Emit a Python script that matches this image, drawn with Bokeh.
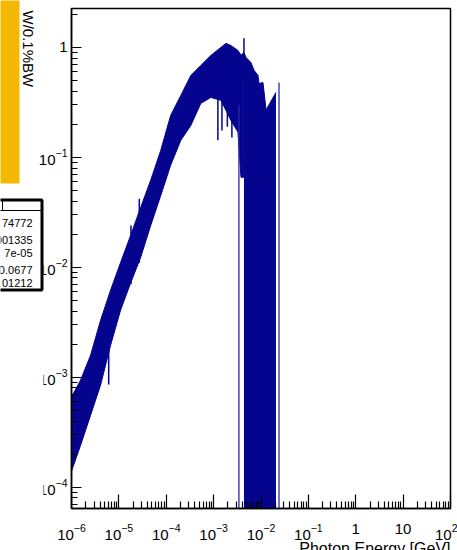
from bokeh.plotting import figure
from bokeh.layouts import row, column
from bokeh.models import FixedTicker, Range1d
from bokeh.core.properties import value
from bokeh.embed import file_html
from bokeh.resources import INLINE

# ---- data (photon energy in GeV, power in W/0.1%BW) ----
# envelope of the noisy histogram (upper / lower edge of the drawn band)
energy = [1.0e-6, 1.55e-6, 2.52e-6, 4.11e-6, 6.68e-6, 1.09e-5, 1.77e-5, 2.88e-5,
          4.70e-5, 7.66e-5, 1.24e-4, 2.03e-4, 3.30e-4, 5.37e-4, 8.75e-4, 1.42e-3,
          1.82e-3, 2.32e-3, 3.26e-3, 3.78e-3, 4.37e-3]
w_upper = [6.6e-4, 9.4e-4, 1.58e-3, 3.3e-3, 6.2e-3, 1.11e-2, 1.95e-2, 3.5e-2,
           6.2e-2, 0.116, 0.241, 0.366, 0.556, 0.686, 0.846, 1.0,
           1.09, 1.04, 0.94, 0.85, 0.90]
w_lower = [1.4e-4, 2.4e-4, 4.5e-4, 8.5e-4, 1.95e-3, 4.1e-3, 7.2e-3, 1.23e-2,
           2.4e-2, 4.5e-2, 8.5e-2, 0.143, 0.195, 0.31, 0.351, 0.33,
           0.268, 0.217, 0.17, 0.066, 0.066]

# region where bins alternate with empty bins (appears solid down to the axis)
dense_energy = [4.37e-3, 4.82e-3, 6.14e-3, 7.11e-3, 8.65e-3, 9.08e-3, 1.10e-2, 1.28e-2, 2.07e-2]
dense_upper = [0.90, 0.81, 0.73, 0.62, 0.556, 0.47, 0.48, 0.27, 0.39]

# isolated single-bin spikes
spike_energy = [6.1e-6, 1.8e-5, 2.7e-5, 1.23e-3, 1.50e-3, 1.95e-3, 2.43e-3, 4.37e-3]
spike_low = [8.6e-4, 7.0e-3, 1.1e-2, 0.143, 0.176, 0.19, 0.152, 0.5]
spike_high = [3.0e-3, 2.4e-2, 4.2e-2, 0.6, 0.5, 0.6, 0.6, 1.21]

# bins that drop all the way to the axis
full_spike_energy = [3.42e-3, 2.40e-2]
full_spike_high = [0.30, 0.481]

x_ticks = [1e-6, 1e-5, 1e-4, 1e-3, 1e-2, 1e-1, 1, 10, 100]
y_ticks = [1e-4, 1e-3, 1e-2, 1e-1, 1]

stats_values = ["74772", "001335", "7e-05", "0.0677", "01212"]

x_min, x_max = 1e-6, 1e2
y_min, y_max = 6.4e-5, 2.26

NAVY = "#04048f"
FONT = "Liberation Sans"
W, H = 457, 550

# ---------------- main histogram pad ----------------
p = figure(width=W, height=H, x_axis_type="log", y_axis_type="log",
           x_range=Range1d(x_min, x_max), y_range=Range1d(y_min, y_max),
           output_backend="svg", toolbar_location=None,
           min_border_left=71, min_border_right=7, min_border_top=8, min_border_bottom=42)
p.grid.visible = False
p.background_fill_color = "white"
p.border_fill_color = "white"
p.outline_line_color = "black"
p.outline_line_width = 1.5

p.varea(x=energy, y1=w_lower, y2=w_upper, fill_color=NAVY)
p.line(x=energy, y=w_upper, line_color=NAVY, line_width=1)
p.line(x=energy, y=w_lower, line_color=NAVY, line_width=1)
p.varea(x=dense_energy, y1=[y_min] * len(dense_energy), y2=dense_upper, fill_color=NAVY)
p.line(x=dense_energy, y=dense_upper, line_color=NAVY, line_width=1)
p.segment(x0=spike_energy, y0=spike_low, x1=spike_energy, y1=spike_high,
          line_color=NAVY, line_width=1.5)
p.segment(x0=full_spike_energy, y0=[y_min] * len(full_spike_energy),
          x1=full_spike_energy, y1=full_spike_high,
          line_color="#2a2aa8", line_width=1.3)

minor_x = [k * t for t in x_ticks for k in range(2, 10) if k * t <= x_max]
minor_y = [k * t for t in [1e-5] + y_ticks for k in range(2, 10) if y_min <= k * t <= y_max]
p.xaxis.ticker = FixedTicker(ticks=x_ticks, minor_ticks=minor_x)
p.yaxis.ticker = FixedTicker(ticks=y_ticks, minor_ticks=minor_y)
p.xaxis.major_label_overrides = {1: "1", 10: "10"}
p.yaxis.major_label_overrides = {1: "1"}
for ax in (p.xaxis[0], p.yaxis[0]):
    ax.axis_line_width = 1.5
    ax.axis_line_color = "black"
    ax.major_tick_line_color = "black"
    ax.minor_tick_line_color = "black"
    ax.major_tick_line_width = 1.2
    ax.minor_tick_line_width = 1.2
    ax.major_tick_out = 0
    ax.minor_tick_out = 0
    ax.major_label_text_font = FONT
    ax.major_label_text_font_size = "15px"
    ax.major_label_text_color = "black"
p.xaxis.major_tick_in = 14
p.xaxis.minor_tick_in = 7
p.yaxis.major_tick_in = 10
p.yaxis.minor_tick_in = 6
p.xaxis.major_label_standoff = 15
p.yaxis.major_label_standoff = 4

# ------------- overlay (canvas pixel coordinates): neighbouring pad + titles -------------
o = figure(width=W, height=H, x_range=Range1d(0, W), y_range=Range1d(H, 0),
           x_axis_location=None, y_axis_location=None,
           output_backend="svg", toolbar_location=None,
           min_border=0, min_border_left=0, min_border_right=0,
           min_border_top=0, min_border_bottom=0)
o.grid.visible = False
o.outline_line_color = None
o.border_fill_alpha = 0
o.background_fill_alpha = 0
o.styles = {"z-index": "5", "position": "relative"}
o.quad(left=[-5], right=[19], top=[-5], bottom=[183], fill_color="#f5b800", line_color=None)
o.quad(left=[-5], right=[43], top=[185], bottom=[560], fill_color="white", line_color=None)
o.quad(left=[-10], right=[41.5], top=[199.5], bottom=[289.5], fill_color="white",
       line_color="black", line_width=3)
o.segment(x0=[-10], y0=[210], x1=[41.5], y1=[210], line_color="black", line_width=1)
o.segment(x0=[2], y0=[200], x1=[2], y1=[210], line_color="black", line_width=1)
row_y = [222, 239, 252, 269, 282]
o.text(x=[32] * len(stats_values), y=row_y, text=stats_values, text_align="right",
       text_baseline="middle", text_font=value(FONT), text_font_size="11px",
       text_color="black")
o.text(x=[28], y=[10], text=["W/0.1%BW"], angle=-1.5707963, text_align="left",
       text_baseline="middle", text_font=value(FONT), text_font_size="15px",
       text_color="black")
o.text(x=[450], y=[548], text=["Photon Energy [GeV]"], text_align="right",
       text_baseline="alphabetic", text_font=value(FONT), text_font_size="16px",
       text_color="black")

main = column(p, spacing=0)
main.margin = (0, 0, 0, -W)
layout = row(column(o), main, spacing=0)
open("out.html", "w").write(file_html(layout, INLINE))
